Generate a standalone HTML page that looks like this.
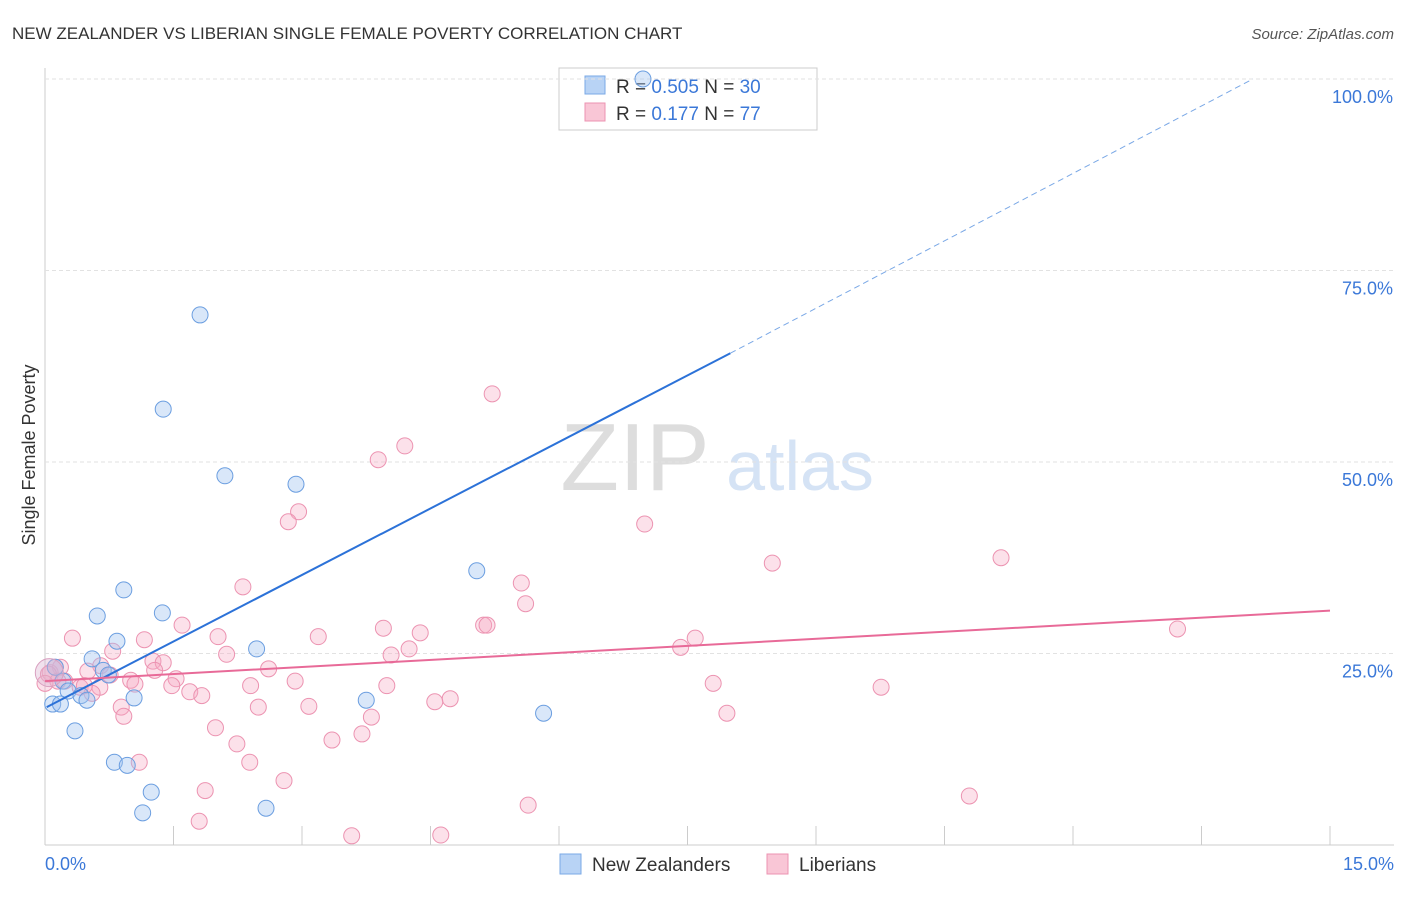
<!DOCTYPE html>
<html><head><meta charset="utf-8"><style>
body{margin:0;background:#fff;font-family:"Liberation Sans",sans-serif}
svg text{font-family:"Liberation Sans",sans-serif}
</style></head><body>
<svg id="c" width="1406" height="892">
<text x="12" y="39" font-size="17" fill="#333">NEW ZEALANDER VS LIBERIAN SINGLE FEMALE POVERTY CORRELATION CHART</text>
<text x="1394" y="39" font-size="15" fill="#555" font-style="italic" text-anchor="end">Source: ZipAtlas.com</text>
<text x="35" y="455" font-size="18" fill="#333" text-anchor="middle" transform="rotate(-90 35 455)">Single Female Poverty</text>
<text x="635" y="490" font-size="96" fill="#ddd" font-family="Liberation Serif" text-anchor="middle">ZIP</text>
<text x="800" y="490" font-size="70" fill="#d5e3f5" text-anchor="middle">atlas</text>
<g>
<rect x="559" y="68" width="258" height="62" fill="#fff" stroke="#ccc"/>
<rect x="585" y="76" width="20" height="18" fill="#b8d3f5" stroke="#7aa8e6"/>
<rect x="585" y="103" width="20" height="18" fill="#f9c6d6" stroke="#ec93b1"/>
<text x="616" y="93" font-size="19" fill="#333">R = <tspan fill="#3b78d8">0.505</tspan>   N = <tspan fill="#3b78d8">30</tspan></text>
<text x="616" y="120" font-size="19" fill="#333">R =  <tspan fill="#3b78d8">0.177</tspan>   N = <tspan fill="#3b78d8">77</tspan></text>
</g>
<g id="grid"></g><g id="pts"></g><g id="lines"></g>
<g>
<rect x="560" y="854" width="21" height="20" fill="#b8d3f5" stroke="#7aa8e6"/>
<text x="592" y="871" font-size="19" fill="#333">New Zealanders</text>
<rect x="767" y="854" width="21" height="20" fill="#f9c6d6" stroke="#ec93b1"/>
<text x="799" y="871" font-size="19" fill="#333">Liberians</text>
</g>
<text x="45" y="870" font-size="18" fill="#3b78d8">0.0%</text>
<text x="1394" y="870" font-size="18" fill="#3b78d8" text-anchor="end">15.0%</text>
</svg>
<script>
const yTicks=[25,50,75,100];
const xTicks=[0,1.5,3,4.5,6,7.5,9,10.5,12,13.5,15];
const nzX=[6.98,1.81,1.38,2.1,2.93,5.04,0.92,1.37,0.61,0.84,2.47,0.55,0.68,0.74,0.21,0.27,0.42,0.49,1.04,3.75,0.09,0.18,5.82,0.35,0.81,0.96,1.24,2.58,1.14,0.12];
const nzY=[100,69.2,56.9,48.2,47.1,35.8,33.3,30.3,29.9,26.6,25.6,24.3,22.8,22.2,21.4,20.1,19.5,18.9,19.2,18.9,18.4,18.4,17.2,14.9,10.8,10.4,6.9,4.8,4.2,23.2];
const lbX=[5.22,4.2,3.89,2.96,2.84,7.0,11.16,8.49,2.31,5.56,5.61,1.6,5.12,5.16,13.22,3.95,4.38,3.19,2.02,0.32,1.16,7.59,0.79,2.12,4.25,4.04,7.42,1.26,1.38,2.61,0.65,0.5,0.18,0.06,0.23,1.53,1.0,1.05,2.92,7.8,9.76,2.4,3.99,0.41,0.64,1.48,1.69,1.83,0.55,4.73,4.55,3.08,2.49,0.89,0.92,3.81,7.96,1.99,2.24,3.35,3.7,1.1,2.39,2.79,1.87,10.79,5.64,1.8,3.58,4.62,0.12,0.04,0.15,0,0.76,0.46,1.28];
const lbY=[58.9,52.1,50.3,43.5,42.2,41.9,37.5,36.8,33.7,34.2,31.5,28.7,28.7,28.7,28.2,28.3,27.7,27.2,27.2,27.0,26.8,27.0,25.3,24.9,25.6,24.8,25.8,24.0,23.8,23.0,23.4,22.7,23.2,22.5,21.4,21.7,21.5,21.0,21.4,21.1,20.6,20.8,20.8,20.6,20.6,20.8,20.0,19.5,19.8,19.1,18.7,18.1,18.0,18.0,16.8,16.7,17.2,15.3,13.2,13.7,14.5,10.8,10.8,8.4,7.1,6.4,5.2,3.1,1.2,1.3,23.2,22.3,21.4,21.1,22.2,20.8,22.8];
const nzLine=[[0.02,18],[8.0,64.2],[14.1,100]];
const lbLine=[[0,21.4],[15,30.6]];
const X=v=>45+v/15*1285, Y=v=>845-v/100*766;
const NS='http://www.w3.org/2000/svg';
function mk(p,t,a){const e=document.createElementNS(NS,t);for(const k in a)e.setAttribute(k,a[k]);p.appendChild(e);return e;}
const g=document.getElementById('grid');
mk(g,'line',{x1:45,y1:845,x2:1394,y2:845,stroke:'#ccc'});
mk(g,'line',{x1:45,y1:68,x2:45,y2:845,stroke:'#ccc'});
yTicks.forEach(t=>{
 const l=mk(g,'line',{x1:45,x2:1394,y1:Y(t),y2:Y(t),stroke:'#e2e2e2','stroke-dasharray':'4 3'});
 
 
 const tx=mk(g,'text',{x:1393,y:Y(t)+24,'font-size':18,fill:'#3b78d8','text-anchor':'end'});
 tx.textContent=t.toFixed(1)+'%';
 
 
});
xTicks.forEach(t=>{
 const l=mk(g,'line',{x1:X(t),x2:X(t),y1:826,y2:845,stroke:'#ccc'});
 
 
});
const p=document.getElementById('pts');
lbX.forEach((x,i)=>{const c=mk(p,'circle',{cx:X(x),cy:Y(lbY[i]),r:8,fill:'rgba(246,170,196,0.35)',stroke:'#ec93b1','stroke-width':1});
 
 });
nzX.forEach((x,i)=>{const c=mk(p,'circle',{cx:X(x),cy:Y(nzY[i]),r:8,fill:'rgba(160,195,240,0.4)',stroke:'#6b9ee0','stroke-width':1});
 
 });
const big=mk(p,'circle',{cx:X(0.05),cy:Y(22.5),r:14,fill:'rgba(220,180,210,0.4)',stroke:'#d9a0c0'});


const L=document.getElementById('lines');
const a=mk(L,'line',{x1:X(nzLine[0][0]),y1:Y(nzLine[0][1]),x2:X(nzLine[1][0]),y2:Y(nzLine[1][1]),stroke:'#2c72d8','stroke-width':2});


const b=mk(L,'line',{x1:X(nzLine[1][0]),y1:Y(nzLine[1][1]),x2:X(nzLine[2][0]),y2:Y(nzLine[2][1]),stroke:'#7aa8e6','stroke-width':1,'stroke-dasharray':'6 4'});


const c=mk(L,'line',{x1:X(lbLine[0][0]),y1:Y(lbLine[0][1]),x2:X(lbLine[1][0]),y2:Y(lbLine[1][1]),stroke:'#e86a98','stroke-width':2});


</script>
</body></html>
